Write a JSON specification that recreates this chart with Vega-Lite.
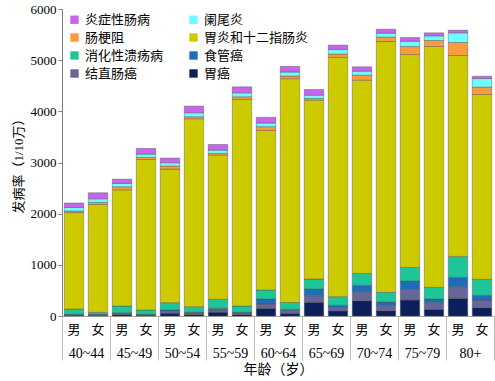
{
  "$schema": "https://vega.github.io/schema/vega-lite/v6.json",
  "autosize": "none",
  "width": 432,
  "height": 307,
  "padding": {"left": 62, "top": 9, "right": 1, "bottom": 65},
  "background": "white",
  "config": {
    "view": {"stroke": null},
    "font": "'Liberation Serif', 'Noto Sans CJK SC'",
    "axis": {"labelFont": "'Liberation Serif', 'Noto Sans CJK SC'", "titleFont": "'Liberation Serif', 'Noto Sans CJK SC'", "titleFontWeight": "normal", "labelColor": "#000", "titleColor": "#000"}
  },
  "data": {
    "values": [
      {"年龄": "40~44", "性别": "男", "胃癌": 15, "结直肠癌": 10, "食管癌": 8, "消化性溃疡病": 103, "胃炎和十二指肠炎": 1885, "肠梗阻": 30, "阑尾炎": 72, "炎症性肠病": 85},
      {"年龄": "40~44", "性别": "女", "胃癌": 12, "结直肠癌": 12, "食管癌": 8, "消化性溃疡病": 39, "胃炎和十二指肠炎": 2109, "肠梗阻": 39, "阑尾炎": 72, "炎症性肠病": 117},
      {"年龄": "45~49", "性别": "男", "胃癌": 30, "结直肠癌": 22, "食管癌": 12, "消化性溃疡病": 131, "胃炎和十二指肠炎": 2271, "肠梗阻": 59, "阑尾炎": 66, "炎症性肠病": 84},
      {"年龄": "45~49", "性别": "女", "胃癌": 15, "结直肠癌": 12, "食管癌": 6, "消化性溃疡病": 84, "胃炎和十二指肠炎": 2943, "肠梗阻": 39, "阑尾炎": 65, "炎症性肠病": 111},
      {"年龄": "50~54", "性别": "男", "胃癌": 55, "结直肠癌": 40, "食管癌": 22, "消化性溃疡病": 143, "胃炎和十二指肠炎": 2611, "肠梗阻": 59, "阑尾炎": 65, "炎症性肠病": 91},
      {"年龄": "50~54", "性别": "女", "胃癌": 30, "结直肠癌": 30, "食管癌": 12, "消化性溃疡病": 111, "胃炎和十二指肠炎": 3672, "肠梗阻": 39, "阑尾炎": 78, "炎症性肠病": 130},
      {"年龄": "55~59", "性别": "男", "胃癌": 75, "结直肠癌": 45, "食管癌": 30, "消化性溃疡病": 176, "胃炎和十二指肠炎": 2818, "肠梗阻": 33, "阑尾炎": 65, "炎症性肠病": 111},
      {"年龄": "55~59", "性别": "女", "胃癌": 30, "结直肠癌": 30, "食管癌": 12, "消化性溃疡病": 123, "胃炎和十二指肠炎": 4037, "肠梗阻": 52, "阑尾炎": 78, "炎症性肠病": 117},
      {"年龄": "60~64", "性别": "男", "胃癌": 150, "结直肠癌": 85, "食管癌": 98, "消化性溃疡病": 176, "胃炎和十二指肠炎": 3119, "肠梗阻": 72, "阑尾炎": 72, "炎症性肠病": 111},
      {"年龄": "60~64", "性别": "女", "胃癌": 52, "结直肠癌": 60, "食管癌": 15, "消化性溃疡病": 137, "胃炎和十二指肠炎": 4374, "肠梗阻": 52, "阑尾炎": 78, "炎症性肠病": 111},
      {"年龄": "65~69", "性别": "男", "胃癌": 267, "结直肠癌": 130, "食管癌": 130, "消化性溃疡病": 195, "胃炎和十二指肠炎": 3496, "肠梗阻": 33, "阑尾炎": 65, "炎症性肠病": 111},
      {"年龄": "65~69", "性别": "女", "胃癌": 98, "结直肠癌": 72, "食管癌": 39, "消化性溃疡病": 169, "胃炎和十二指肠炎": 4676, "肠梗阻": 65, "阑尾炎": 91, "炎症性肠病": 85},
      {"年龄": "70~74", "性别": "男", "胃癌": 299, "结直肠癌": 176, "食管癌": 124, "消化性溃疡病": 234, "胃炎和十二指肠炎": 3776, "肠梗阻": 98, "阑尾炎": 78, "炎症性肠病": 85},
      {"年龄": "70~74", "性别": "女", "胃癌": 104, "结直肠癌": 104, "食管癌": 65, "消化性溃疡病": 189, "胃炎和十二指肠炎": 4902, "肠梗阻": 85, "阑尾炎": 78, "炎症性肠病": 78},
      {"年龄": "75~79", "性别": "男", "胃癌": 312, "结直肠癌": 208, "食管癌": 163, "消化性溃疡病": 267, "胃炎和十二指肠炎": 4160, "肠梗阻": 156, "阑尾炎": 104, "炎症性肠病": 72},
      {"年龄": "75~79", "性别": "女", "胃癌": 130, "结直肠癌": 130, "食管癌": 72, "消化性溃疡病": 228, "胃炎和十二指肠炎": 4707, "肠梗阻": 117, "阑尾炎": 91, "炎症性肠病": 59},
      {"年龄": "80+", "性别": "男", "胃癌": 345, "结直肠癌": 228, "食管癌": 182, "消化性溃疡病": 410, "胃炎和十二指肠炎": 3926, "肠梗阻": 254, "阑尾炎": 189, "炎症性肠病": 52},
      {"年龄": "80+", "性别": "女", "胃癌": 163, "结直肠癌": 150, "食管癌": 91, "消化性溃疡病": 312, "胃炎和十二指肠炎": 3613, "肠梗阻": 143, "阑尾炎": 169, "炎症性肠病": 45}
    ]
  },
  "transform": [
    {"calculate": "datum['年龄'] + '|' + datum['性别']", "as": "组"},
    {"fold": ["胃癌", "结直肠癌", "食管癌", "消化性溃疡病", "胃炎和十二指肠炎", "肠梗阻", "阑尾炎", "炎症性肠病"], "as": ["疾病", "发病率"]},
    {"calculate": "indexof(['胃癌', '结直肠癌', '食管癌', '消化性溃疡病', '胃炎和十二指肠炎', '肠梗阻', '阑尾炎', '炎症性肠病'], datum['疾病'])", "as": "堆叠序"}
  ],
  "layer": [
    {
      "mark": {"type": "bar", "stroke": "#4d4d4d", "strokeWidth": 0.6, "strokeOpacity": 0.7},
      "encoding": {
        "x": {
          "field": "组", "type": "nominal", "sort": null,
          "scale": {"paddingInner": 0.19, "paddingOuter": 0.095},
          "axis": {"orient": "bottom", "title": null, "labelAngle": 0, "ticks": false, "domainColor": "#a6a6a6", "labelFontSize": 13, "labelPadding": 7, "labelExpr": "split(datum.value, '|')[1]"}
        },
        "y": {
          "field": "发病率", "type": "quantitative", "stack": "zero",
          "scale": {"domain": [0, 6000], "nice": false},
          "axis": {"values": [0, 1000, 2000, 3000, 4000, 5000, 6000], "format": "d", "grid": false, "title": "发病率（1/10万）", "titleFontSize": 13, "titlePadding": 5, "labelFontSize": 13, "labelPadding": 2, "tickSize": 4, "tickColor": "#808080", "domainColor": "#808080"}
        },
        "order": {"field": "堆叠序", "type": "quantitative", "sort": "ascending"},
        "color": {
          "field": "疾病", "type": "nominal",
          "scale": {
            "domain": ["炎症性肠病", "肠梗阻", "消化性溃疡病", "结直肠癌", "阑尾炎", "胃炎和十二指肠炎", "食管癌", "胃癌"],
            "range": ["#C865EE", "#FF9A3C", "#1EC598", "#666699", "#6FFCFC", "#CDCB00", "#1F6DB8", "#0C1E5B"]
          },
          "legend": {"orient": "none", "legendX": 6, "legendY": 4, "title": null, "columns": 2, "columnPadding": 23, "rowPadding": 4, "symbolType": "square", "symbolSize": 70, "symbolStrokeWidth": 0, "labelFontSize": 13, "labelFont": "Noto Sans CJK SC", "labelOffset": 4}
        }
      }
    },
    {
      "mark": {"type": "bar", "opacity": 0},
      "encoding": {
        "x": {
          "field": "年龄", "type": "ordinal",
          "scale": {"type": "band", "paddingInner": 0, "paddingOuter": 0},
          "axis": {"orient": "bottom", "title": "年龄（岁）", "titleFontSize": 14, "titlePadding": 2, "labelAngle": 0, "domain": false, "ticks": true, "tickBand": "extent", "tickSize": 44, "tickColor": "#bfbfbf", "labelFontSize": 14, "labelPadding": -14}
        },
        "y": {"datum": 0}
      }
    }
  ],
  "resolve": {"scale": {"x": "independent"}}
}
